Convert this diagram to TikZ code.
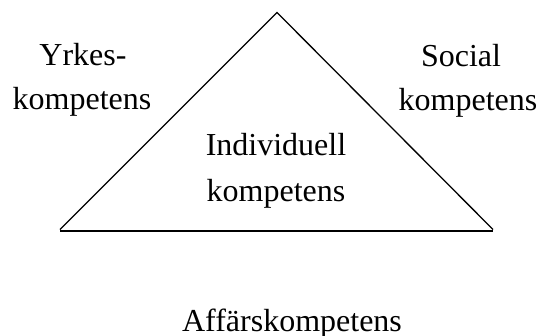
\documentclass[tikz,border=0pt]{standalone}
\usepackage{fontspec}
\setmainfont{Liberation Serif}
\begin{document}
\begin{tikzpicture}[x=1pt,y=1pt,
  lbl/.style={anchor=base,inner sep=0pt,font=\fontsize{32}{36}\selectfont},
  edge/.style={line width=1.3pt,line join=miter}]
\useasboundingbox (0,0) rectangle (537,335);
\coordinate (apex) at (277,322.5);
\coordinate (bl) at (60,105.5);
\coordinate (br) at (493,105.5);
\coordinate (basel) at (60,104);
\coordinate (baser) at (493,104);
\draw[edge] (bl) -- (apex) -- (br);
\draw[edge] (basel) -- (baser);
\node[lbl] (y1) at (83,269) {Yrkes-};
\node[lbl] (y2) at (82,225) {kompetens};
\node[lbl] (s1) at (461,268) {Social};
\node[lbl] (s2) at (468,224) {kompetens};
\node[lbl] (i1) at (276,179) {Individuell};
\node[lbl] (i2) at (276,133.5) {kompetens};
\node[lbl] (a1) at (292,4) {Affärskompetens};
\end{tikzpicture}
\end{document}
